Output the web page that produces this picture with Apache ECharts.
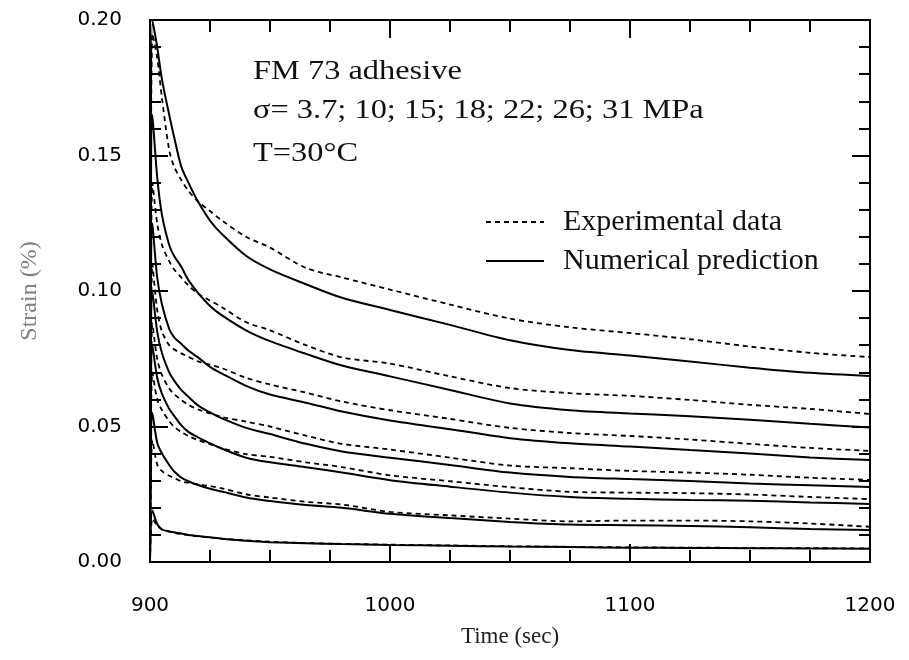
<!DOCTYPE html>
<html>
<head>
<meta charset="utf-8">
<script src="https://cdn.jsdelivr.net/npm/echarts@6/dist/echarts.min.js"></script>
<style>
html,body{margin:0;padding:0;background:#fff;}
#chart{width:909px;height:660px;}
</style>
</head>
<body>
<div id="chart"></div>
<script>
// Time (sec)
const time = [900, 901, 903, 905, 908, 910, 913, 916, 920, 925, 930, 940, 950, 965, 980, 1000, 1025, 1050, 1075, 1100, 1125, 1150, 1175, 1200];

// Experimental data (dashed), strain (%)
const exp31 = [0, 0.195, 0.186, 0.171, 0.152, 0.146, 0.141, 0.137, 0.133, 0.1295, 0.126, 0.12, 0.116, 0.1085, 0.105, 0.1005, 0.095, 0.0898, 0.0866, 0.0845, 0.0822, 0.0795, 0.0772, 0.0756];
const exp26 = [0, 0.14, 0.125, 0.117, 0.111, 0.108, 0.105, 0.102, 0.099, 0.0965, 0.094, 0.0885, 0.0855, 0.08, 0.0755, 0.0732, 0.0685, 0.0642, 0.0623, 0.0613, 0.0598, 0.058, 0.0565, 0.0546];
const exp22 = [0, 0.11, 0.093, 0.085, 0.08, 0.0785, 0.077, 0.0757, 0.074, 0.0728, 0.0715, 0.068, 0.0655, 0.0625, 0.0592, 0.056, 0.0528, 0.0495, 0.0476, 0.0465, 0.0452, 0.0436, 0.0421, 0.041];
const exp18 = [0, 0.088, 0.075, 0.069, 0.064, 0.062, 0.0598, 0.058, 0.0563, 0.0548, 0.0535, 0.0518, 0.05, 0.0466, 0.0436, 0.0415, 0.0385, 0.0356, 0.0346, 0.0336, 0.033, 0.0322, 0.0311, 0.0303];
const exp15 = [0, 0.07, 0.06, 0.056, 0.052, 0.05, 0.048, 0.0465, 0.045, 0.0435, 0.042, 0.0398, 0.0388, 0.0368, 0.035, 0.032, 0.0298, 0.0276, 0.0259, 0.0256, 0.0254, 0.0249, 0.024, 0.0232];
const exp10 = [0, 0.045, 0.036, 0.0335, 0.0318, 0.031, 0.0298, 0.0292, 0.0286, 0.028, 0.0272, 0.025, 0.0238, 0.0222, 0.0212, 0.0185, 0.0172, 0.016, 0.015, 0.0153, 0.0153, 0.015, 0.0142, 0.013];
const exp37 = [0, 0.016, 0.0135, 0.012, 0.0112, 0.0108, 0.0103, 0.0099, 0.0095, 0.009, 0.0086, 0.008, 0.0075, 0.007, 0.0067, 0.0064, 0.0061, 0.0058, 0.0056, 0.0054, 0.0053, 0.0052, 0.0051, 0.005];

// Numerical prediction (solid), strain (%)
const num31 = [0, 0.2, 0.19, 0.178, 0.165, 0.157, 0.146, 0.14, 0.133, 0.126, 0.121, 0.113, 0.108, 0.1025, 0.0975, 0.093, 0.0875, 0.0818, 0.0782, 0.0762, 0.074, 0.0717, 0.0698, 0.0686];
const num26 = [0, 0.165, 0.142, 0.128, 0.117, 0.113, 0.109, 0.104, 0.0993, 0.0945, 0.091, 0.0855, 0.0815, 0.0768, 0.0725, 0.0685, 0.0635, 0.0585, 0.056, 0.0548, 0.0538, 0.0525, 0.051, 0.0496];
const num22 = [0, 0.125, 0.105, 0.095, 0.086, 0.083, 0.0805, 0.078, 0.0755, 0.072, 0.0695, 0.065, 0.0618, 0.0588, 0.0555, 0.0522, 0.049, 0.0457, 0.0438, 0.0426, 0.0413, 0.04, 0.0386, 0.0376];
const num18 = [0, 0.1, 0.085, 0.077, 0.07, 0.067, 0.0635, 0.061, 0.0578, 0.0552, 0.053, 0.0495, 0.0472, 0.0436, 0.0408, 0.0385, 0.0358, 0.033, 0.0314, 0.0306, 0.0299, 0.029, 0.0283, 0.0277];
const num15 = [0, 0.08, 0.068, 0.062, 0.0565, 0.054, 0.0505, 0.048, 0.046, 0.0438, 0.0418, 0.0385, 0.0368, 0.035, 0.033, 0.0302, 0.0278, 0.0256, 0.024, 0.0233, 0.0229, 0.0226, 0.022, 0.0214];
const num10 = [0, 0.055, 0.044, 0.04, 0.0358, 0.0335, 0.0312, 0.0298, 0.0284, 0.027, 0.026, 0.0238, 0.0225, 0.021, 0.02, 0.0178, 0.0162, 0.0148, 0.0138, 0.0136, 0.0133, 0.0128, 0.0122, 0.0118];
const num37 = [0, 0.019, 0.014, 0.012, 0.0113, 0.011, 0.0105, 0.01, 0.0096, 0.0091, 0.0086, 0.0078, 0.0073, 0.0069, 0.0066, 0.0063, 0.006, 0.0057, 0.0055, 0.0053, 0.0052, 0.0051, 0.005, 0.0049];

const expSeries = [exp31, exp26, exp22, exp18, exp15, exp10, exp37];
const numSeries = [num31, num26, num22, num18, num15, num10, num37];

const xTicks = [900, 1000, 1100, 1200];
const yTicks = ['0.00', '0.05', '0.10', '0.15', '0.20'];

const EXP_NAME = 'Experimental data';
const NUM_NAME = 'Numerical prediction';

function pairs(vals) { return vals.map((v, i) => [time[i], v]); }

const series = [];
expSeries.forEach(v => series.push({
  name: EXP_NAME, type: 'line', data: pairs(v), symbol: 'none', symbolSize: 0,
  smooth: 0.3,
  lineStyle: { color: '#000', width: 1.8, type: [5, 4] }, itemStyle: { color: '#000' }
}));
numSeries.forEach(v => series.push({
  name: NUM_NAME, type: 'line', data: pairs(v), symbol: 'none', symbolSize: 0,
  smooth: 0.3,
  lineStyle: { color: '#000', width: 2 }, itemStyle: { color: '#000' }
}));

const tickFont = { fontFamily: 'DejaVu Sans', fontSize: 20, color: '#000' };
const axisCommonX = {
  type: 'value', min: 900, max: 1200, interval: 100,
  axisLine: { show: true, onZero: false, lineStyle: { color: '#000', width: 2 } },
  axisTick: { show: true, inside: true, length: 18, lineStyle: { color: '#000', width: 2 } },
  minorTick: { show: true, splitNumber: 4, length: 12, lineStyle: { color: '#000', width: 2 } },
  splitLine: { show: false }, minorSplitLine: { show: false }
};
const axisCommonY = {
  type: 'value', min: 0, max: 0.2, interval: 0.05,
  axisLine: { show: true, onZero: false, lineStyle: { color: '#000', width: 2 } },
  axisTick: { show: true, inside: true, length: 18, lineStyle: { color: '#000', width: 2 } },
  minorTick: { show: true, splitNumber: 5, length: 11, lineStyle: { color: '#000', width: 2 } },
  splitLine: { show: false }, minorSplitLine: { show: false }
};

const chart = echarts.init(document.getElementById('chart'), null, { renderer: 'canvas' });
chart.setOption({
  animation: false,
  backgroundColor: '#fff',
  grid: { left: 150, right: 39, top: 20, bottom: 98, containLabel: false },
  xAxis: [
    Object.assign({}, axisCommonX, {
      position: 'bottom',
      axisLabel: Object.assign({ margin: 34, formatter: v => (xTicks.indexOf(v) >= 0 ? String(v) : '') }, tickFont),
      name: 'Time (sec)', nameLocation: 'middle', nameGap: 63,
      nameTextStyle: { fontFamily: 'Liberation Serif', fontSize: 23, color: '#222' }
    }),
    Object.assign({}, axisCommonX, { position: 'top', axisLabel: { show: false } })
  ],
  yAxis: [
    Object.assign({}, axisCommonY, {
      position: 'left',
      axisLabel: Object.assign({ margin: 28, formatter: v => yTicks[Math.round(v / 0.05)] }, tickFont),
      name: 'Strain (%)', nameLocation: 'middle', nameGap: 108,
      nameTextStyle: { fontFamily: 'Liberation Serif', fontSize: 24, color: '#808080' }
    }),
    Object.assign({}, axisCommonY, { position: 'right', axisLabel: { show: false } })
  ],
  legend: {
    orient: 'vertical', left: 485, top: 207, padding: 0,
    itemWidth: 58, itemHeight: 14, itemGap: 9,
    data: [EXP_NAME, NUM_NAME],
    itemStyle: { opacity: 0, borderWidth: 0 },
    lineStyle: { color: '#000' },
    textStyle: { fontFamily: 'Liberation Serif', fontSize: 30, color: '#111', lineHeight: 30, padding: [0, 0, 0, 14] }
  },
  graphic: [
    { type: 'text', x: 253, y: 72, scaleX: 1.2, silent: true,
      style: { text: 'FM 73 adhesive', fontFamily: 'Liberation Serif', fontSize: 27, fill: '#111', verticalAlign: 'middle', align: 'left' } },
    { type: 'text', x: 253, y: 111, scaleX: 1.2, silent: true,
      style: { text: 'σ= 3.7; 10; 15; 18; 22; 26; 31 MPa', fontFamily: 'Liberation Serif', fontSize: 27, fill: '#111', verticalAlign: 'middle', align: 'left' } },
    { type: 'text', x: 253, y: 154, scaleX: 1.2, silent: true,
      style: { text: 'T=30°C', fontFamily: 'Liberation Serif', fontSize: 27, fill: '#111', verticalAlign: 'middle', align: 'left' } }
  ],
  series: series
});
</script>
</body>
</html>
